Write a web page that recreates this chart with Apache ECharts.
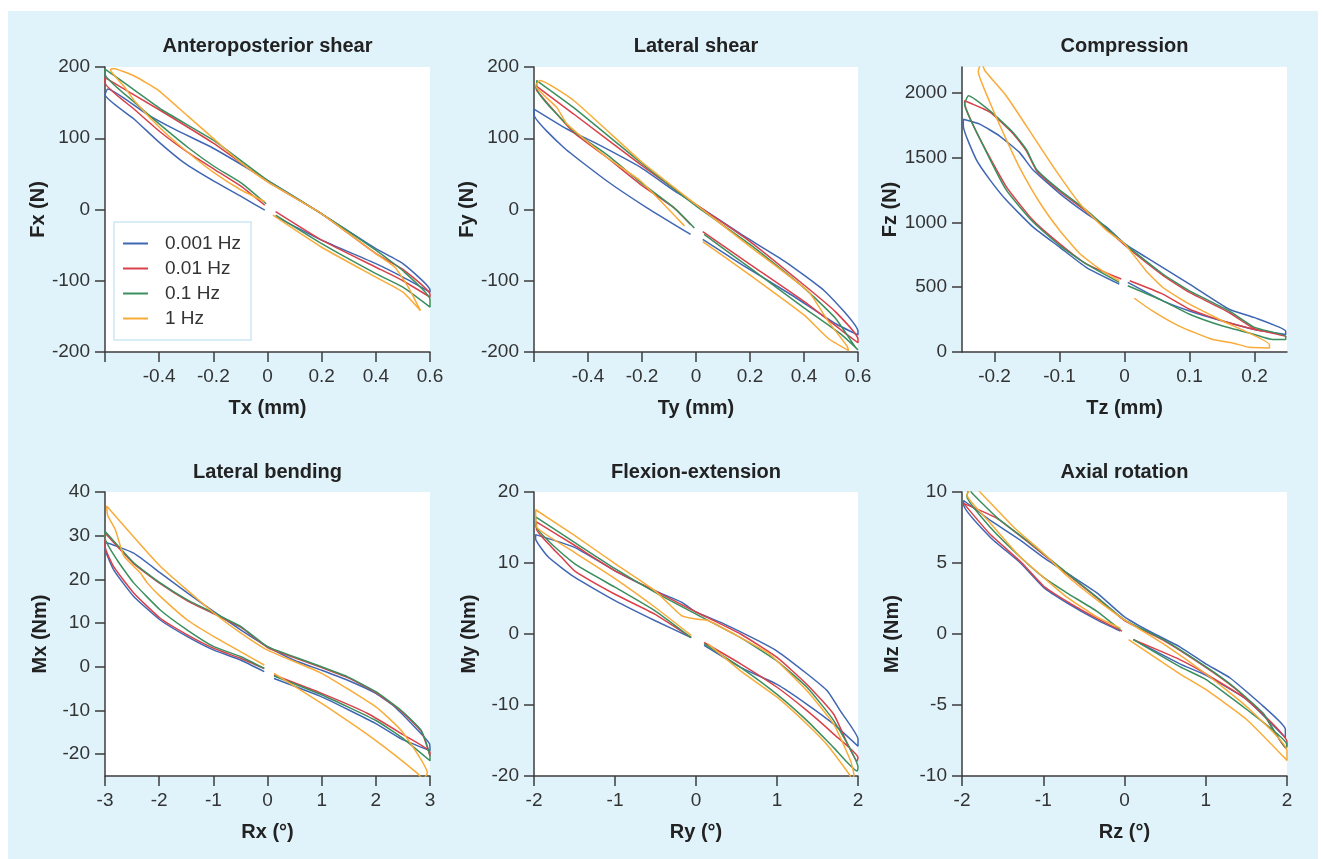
<!DOCTYPE html>
<html>
<head>
<meta charset="utf-8">
<script src="https://cdn.jsdelivr.net/npm/echarts@6/dist/echarts.min.js"></script>
<style>
  html, body { margin: 0; padding: 0; background: #ffffff; }
  #panel { position: absolute; left: 8px; top: 11px; width: 1310px; height: 848px; background: #e0f3fb; }
  #chart { position: absolute; left: 0; top: 0; width: 1322px; height: 859px; }
</style>
</head>
<body>
<div id="panel"></div>
<div id="chart"></div>
<script>
// Frequencies of the cyclic loading
const frequencies = ['0.001 Hz', '0.01 Hz', '0.1 Hz', '1 Hz'];
const colors = ['#3f67b3', '#d9404a', '#3b8f5f', '#f9ab38'];

// Each loop: [displacement, load] pairs, starting just past zero,
// out along the lower right branch, back along the upper branch, then in on the lower left.

// Anteroposterior shear: Tx (mm) vs Fx (N)
const apShear0001 = [[0.03,-10],[0.2,-43],[0.4,-76],[0.5,-95],[0.6,-116],[0.6,-113],[0.5,-76],[0.4,-55],[0.2,-6],[0,41],[-0.2,86],[-0.34,112],[-0.45,135],[-0.59,169],[-0.6,161],[-0.49,126],[-0.405,96],[-0.306,65],[-0.195,39],[-0.096,18],[-0.01,-1]];
const apShear001 = [[0.03,-3],[0.2,-43],[0.4,-81],[0.5,-100],[0.6,-123],[0.6,-119],[0.5,-84],[0.4,-62],[0.2,-6],[0,39],[-0.2,93],[-0.4,140],[-0.6,185],[-0.6,178],[-0.49,140],[-0.39,107],[-0.29,79],[-0.195,56],[-0.096,32],[-0.01,6]];
const apShear01 = [[0.03,-8],[0.2,-48],[0.4,-90],[0.5,-109],[0.6,-137],[0.6,-126],[0.5,-86],[0.4,-57],[0.2,-6],[0,41],[-0.195,96],[-0.39,140],[-0.5,170],[-0.6,197],[-0.6,190],[-0.49,150],[-0.39,117],[-0.29,86],[-0.195,60],[-0.096,37],[-0.005,8]];
const apShear1 = [[0.02,-8],[0.2,-53],[0.4,-95],[0.5,-116],[0.565,-142],[0.546,-128],[0.52,-109],[0.47,-81],[0.4,-62],[0.2,-6],[0,39],[-0.096,65],[-0.195,98],[-0.294,131],[-0.405,168],[-0.49,187],[-0.57,198],[-0.58,196],[-0.53,173],[-0.49,152],[-0.39,112],[-0.29,79],[-0.195,51],[-0.096,27],[-0.01,11]];

// Lateral shear: Ty (mm) vs Fy (N)
const latShear0001 = [[0.025,-42],[0.168,-77],[0.354,-120],[0.515,-160],[0.6,-176],[0.6,-171],[0.478,-115],[0.33,-73],[0.168,-35],[0,7],[-0.08,26],[-0.205,59],[-0.366,92],[-0.478,113],[-0.6,141],[-0.6,133],[-0.49,87],[-0.33,40],[-0.18,2],[-0.02,-35]];
const latShear001 = [[0.025,-31],[0.2,-77],[0.4,-129],[0.54,-170],[0.6,-187],[0.6,-182],[0.515,-143],[0.4,-106],[0.2,-45],[0,7],[-0.205,63],[-0.453,134],[-0.594,174],[-0.59,167],[-0.453,108],[-0.33,73],[-0.205,35],[-0.08,2],[-0.02,-21]];
const latShear01 = [[0.03,-35],[0.2,-82],[0.4,-138],[0.54,-176],[0.6,-197],[0.59,-193],[0.515,-152],[0.4,-110],[0.2,-49],[0,5],[-0.205,66],[-0.453,143],[-0.59,181],[-0.59,170],[-0.453,110],[-0.33,77],[-0.205,38],[-0.08,2],[-0.006,-26]];
const latShear1 = [[0.025,-45],[0.2,-92],[0.4,-148],[0.49,-181],[0.565,-198],[0.56,-192],[0.49,-157],[0.416,-115],[0.2,-52],[0,7],[-0.205,68],[-0.453,153],[-0.578,181],[-0.594,174],[-0.515,143],[-0.478,120],[-0.33,73],[-0.205,40],[-0.043,-23]];

// Compression: Tz (mm) vs Fz (N)
const compression0001 = [[0.005,537],[0.059,395],[0.1,317],[0.151,239],[0.2,174],[0.248,135],[0.248,161],[0.2,265],[0.161,330],[0.1,524],[0.033,732],[0,836],[-0.028,966],[-0.059,1070],[-0.1,1225],[-0.141,1407],[-0.161,1537],[-0.192,1667],[-0.222,1757],[-0.248,1796],[-0.248,1745],[-0.228,1485],[-0.207,1329],[-0.182,1173],[-0.141,966],[-0.1,810],[-0.059,654],[-0.008,524]];
const compression001 = [[0.008,550],[0.059,447],[0.1,330],[0.151,239],[0.2,174],[0.248,122],[0.248,118],[0.2,180],[0.161,305],[0.1,460],[0.059,592],[0,826],[-0.059,1085],[-0.1,1241],[-0.135,1397],[-0.151,1553],[-0.171,1683],[-0.207,1851],[-0.246,1939],[-0.246,1925],[-0.222,1641],[-0.182,1277],[-0.141,1018],[-0.1,836],[-0.059,680],[-0.005,563]];
const compression01 = [[0.005,511],[0.059,395],[0.1,291],[0.151,200],[0.2,135],[0.228,96],[0.248,96],[0.248,122],[0.2,190],[0.161,317],[0.1,472],[0.059,602],[0,836],[-0.059,1095],[-0.1,1251],[-0.135,1407],[-0.151,1563],[-0.171,1693],[-0.207,1861],[-0.24,1978],[-0.246,1913],[-0.222,1641],[-0.182,1251],[-0.141,1005],[-0.1,823],[-0.059,680],[-0.008,537]];
const compression1 = [[0.015,415],[0.043,317],[0.084,200],[0.136,96],[0.166,70],[0.192,36],[0.223,31],[0.223,57],[0.151,239],[0.1,369],[0.059,498],[0.033,628],[0,836],[-0.028,940],[-0.069,1147],[-0.11,1433],[-0.151,1745],[-0.182,1978],[-0.215,2173],[-0.22,2240],[-0.225,2165],[-0.207,1926],[-0.182,1641],[-0.161,1420],[-0.13,1150],[-0.1,940],[-0.069,760],[-0.038,640],[-0.008,550]];

// Lateral bending: Rx (°) vs Mx (Nm)
const latBending0001 = [[0.12,-2.7],[1,-6.9],[2,-13],[2.47,-16.5],[3,-19.2],[2.99,-17.6],[2.78,-14.6],[2.35,-9.2],[2,-6.1],[1.48,-3.1],[1,-0.8],[0.49,1.5],[0,4.6],[-0.49,8.4],[-0.99,12.6],[-1.48,16.9],[-1.98,21.5],[-2.47,26],[-2.99,28.4],[-3,27.2],[-2.84,22.2],[-2.47,16.1],[-1.98,10.7],[-1.48,6.9],[-0.99,3.8],[-0.49,1.5],[-0.06,-1.1]];
const latBending001 = [[0.12,-1.9],[1,-6.1],[1.85,-10.7],[2.47,-15.3],[3,-19.5],[3,-20.4],[2.84,-14.8],[2.47,-10.2],[2,-5.9],[1.48,-2.5],[1,-0.2],[0.49,2.1],[0,4.4],[-0.49,9],[-0.99,12.1],[-1.48,15.1],[-1.98,19],[-2.47,23.6],[-3,30.6],[-3,27.6],[-2.84,22.9],[-2.47,16.9],[-1.98,11.1],[-1.48,7.3],[-0.99,4.2],[-0.49,1.9],[-0.06,-0.4]];
const latBending01 = [[0.12,-2.1],[1,-6.4],[2,-12.3],[2.47,-16.1],[3,-21.5],[3,-20.7],[2.84,-14.6],[2.47,-10],[2,-5.7],[1.48,-2.3],[1,0],[0.49,2.3],[0,4.6],[-0.49,9.2],[-0.99,12.3],[-1.48,15.3],[-1.98,19.2],[-2.47,23.8],[-3,31],[-3,29.5],[-2.78,24.5],[-2.47,19.2],[-1.98,13],[-1.48,8.4],[-0.99,4.6],[-0.49,2.3],[-0.06,-0.4]];
const latBending1 = [[0.12,-1.5],[1,-8.4],[2,-16.9],[2.78,-24.5],[2.87,-25.8],[2.95,-24.3],[2.47,-14.6],[2,-9.2],[1,-1.5],[0,3.8],[-0.49,7.7],[-0.99,12.3],[-1.98,23],[-2.97,36.8],[-2.95,34.6],[-2.81,31.4],[-2.65,25.3],[-2.35,21.5],[-2.22,19.2],[-1.98,16.1],[-1.48,10.7],[-0.99,6.9],[-0.49,3.4],[-0.06,0.4]];

// Flexion-extension: Ry (°) vs My (Nm)
const flexExt0001 = [[0.1,-1.6],[0.55,-4.7],[1,-7.1],[1.37,-9.9],[1.7,-12.7],[2,-15.8],[2,-14.8],[1.78,-10.8],[1.62,-8],[1.37,-5.6],[1,-2.4],[0.76,-0.9],[0.35,1.4],[0,3.1],[-0.18,4.5],[-0.51,6.1],[-1,8.9],[-1.5,12.2],[-1.98,14],[-1.98,13.4],[-1.82,10.8],[-1.5,8],[-1,4.7],[-0.51,1.9],[-0.06,-0.5]];
const flexExt001 = [[0.1,-1.2],[0.55,-4.2],[1,-7.5],[1.37,-10.8],[1.7,-14.1],[2,-17.4],[1.99,-17.9],[1.7,-11.3],[1.37,-7.1],[1,-3.3],[0.55,0],[0,3.1],[-0.51,6.1],[-1,8.9],[-1.5,12.5],[-1.97,15.8],[-1.97,14.8],[-1.78,12.2],[-1.66,10.8],[-1.5,8.9],[-1,5.6],[-0.51,2.8],[-0.06,-0.5]];
const flexExt01 = [[0.1,-1.4],[0.55,-4.7],[1,-8.5],[1.37,-12.2],[1.7,-16],[1.99,-19.3],[2,-18.8],[1.7,-12.2],[1.37,-7.5],[1,-3.8],[0.55,-0.5],[0,2.8],[-0.51,5.9],[-1,9.2],[-1.5,12.9],[-1.98,16.5],[-1.98,15.3],[-1.5,9.9],[-1,6.6],[-0.51,3.3],[-0.06,-0.5]];
const flexExt1 = [[0.15,-1.4],[0.55,-5.2],[1,-8.9],[1.37,-12.7],[1.61,-15.5],[1.9,-19.9],[1.93,-20.6],[1.95,-19.9],[1.91,-17.9],[1.7,-12.7],[1.37,-8],[1,-3.8],[0.88,-2.6],[0.55,-0.5],[0.15,1.9],[0,2.1],[-0.18,2.6],[-0.51,6.1],[-1,9.9],[-1.5,13.9],[-1.98,17.5],[-1.97,15.1],[-1.5,11.5],[-1,7.8],[-0.51,3.8],[-0.06,-0.2]];

// Axial rotation: Rz (°) vs Mz (Nm)
const axialRot0001 = [[0.11,-0.4],[0.68,-2.1],[1,-2.9],[1.5,-4.6],[1.98,-7.3],[1.98,-6.7],[1.71,-5.1],[1.3,-3.1],[1,-2.1],[0.68,-0.9],[0.27,0.3],[0,1.2],[-0.34,2.9],[-0.71,4.3],[-1,5.4],[-1.28,6.6],[-1.65,8],[-1.98,9.4],[-1.98,9.1],[-1.65,6.8],[-1.28,5],[-1,3.3],[-0.71,2.2],[-0.34,1],[-0.05,0.2]];
const axialRot001 = [[0.11,-0.4],[0.68,-1.8],[1,-2.8],[1.5,-4.6],[2,-7.6],[1.99,-8.05],[1.71,-5.65],[1.34,-3.75],[1,-2.35],[0.48,-0.45],[0,0.95],[-0.34,2.55],[-0.71,4.25],[-1.16,6.35],[-1.57,8.15],[-1.98,9.2],[-1.65,7],[-1.28,5.1],[-1,3.4],[-0.71,2.3],[-0.34,1.1],[-0.03,0.2]];
const axialRot01 = [[0.11,-0.4],[0.68,-2.3],[1,-3.2],[1.5,-5.3],[2,-7.8],[1.99,-8],[1.71,-5.6],[1.34,-3.7],[1,-2.3],[0.48,-0.4],[0,1],[-0.34,2.6],[-0.71,4.3],[-1.16,6.4],[-1.57,8.2],[-1.88,9.95],[-1.91,10.3],[-1.94,9.7],[-1.65,7.5],[-1.28,5.4],[-1,4],[-0.71,2.9],[-0.34,1.6],[-0.05,0.3]];
const axialRot1 = [[0.05,-0.4],[0.68,-2.8],[1,-3.9],[1.5,-6],[2,-8.9],[2,-8.2],[1.5,-5.1],[1,-2.8],[0.48,-0.7],[0,1],[-0.34,2.4],[-0.71,4.1],[-1,5.7],[-1.36,7.5],[-1.77,9.95],[-1.85,10.4],[-1.94,9.8],[-1.65,7.8],[-1.28,5.4],[-1,4],[-0.71,2.6],[-0.34,1.2],[-0.05,0.4]];

// Panel titles and axis names
const titles = ['Anteroposterior shear', 'Lateral shear', 'Compression', 'Lateral bending', 'Flexion-extension', 'Axial rotation'];
const xNames = ['Tx (mm)', 'Ty (mm)', 'Tz (mm)', 'Rx (°)', 'Ry (°)', 'Rz (°)'];
const yNames = ['Fx (N)', 'Fy (N)', 'Fz (N)', 'Mx (Nm)', 'My (Nm)', 'Mz (Nm)'];

// Axis extents and tick values
const xRanges = [[-0.6, 0.6], [-0.6, 0.6], [-0.25, 0.25], [-3, 3], [-2, 2], [-2, 2]];
const yRanges = [[-200, 200], [-200, 200], [0, 2200], [-25, 40], [-20, 20], [-10, 10]];
const xTicks = [[-0.6,-0.4,-0.2,0,0.2,0.4,0.6], [-0.6,-0.4,-0.2,0,0.2,0.4,0.6], [-0.2,-0.1,0,0.1,0.2], [-3,-2,-1,0,1,2,3], [-2,-1,0,1,2], [-2,-1,0,1,2]];
const xTickLabels = [[-0.4,-0.2,0,0.2,0.4,0.6], [-0.4,-0.2,0,0.2,0.4,0.6], [-0.2,-0.1,0,0.1,0.2], [-3,-2,-1,0,1,2,3], [-2,-1,0,1,2], [-2,-1,0,1,2]];
const yTicks = [[-200,-100,0,100,200], [-200,-100,0,100,200], [0,500,1000,1500,2000], [-20,-10,0,10,20,30,40], [-20,-10,0,10,20], [-10,-5,0,5,10]];

const panelLoops = [
  [apShear0001, apShear001, apShear01, apShear1],
  [latShear0001, latShear001, latShear01, latShear1],
  [compression0001, compression001, compression01, compression1],
  [latBending0001, latBending001, latBending01, latBending1],
  [flexExt0001, flexExt001, flexExt01, flexExt1],
  [axialRot0001, axialRot001, axialRot01, axialRot1]
];

const FONT = '"Liberation Sans", Arial, Helvetica, sans-serif';
const AXIS_COLOR = '#3d3d3d';
const TEXT_COLOR = '#333333';

// Panel grid placement
const colLeft = [105, 534, 962];
const colWidth = [325, 324, 325];
const rowTop = [67, 492];
const rowHeight = [285, 284];
const yNameGap = [49, 55, 60, 55, 55, 60];

const grids = [], xAxes = [], yAxes = [], titleList = [], series = [];

for (let i = 0; i < 6; i++) {
  const c = i % 3, r = Math.floor(i / 3);
  grids.push({
    left: colLeft[c], top: rowTop[r], width: colWidth[c], height: rowHeight[r],
    show: true, backgroundColor: '#ffffff', borderWidth: 0, containLabel: false
  });
  titleList.push({
    text: titles[i],
    left: colLeft[c] + colWidth[c] / 2,
    top: r === 0 ? 36 : 462,
    textAlign: 'center',
    padding: 0,
    textStyle: { fontFamily: FONT, fontSize: 20, fontWeight: 'bold', color: '#222222' }
  });
  const fmt = v => String(parseFloat(Number(v).toFixed(3)));
  xAxes.push({
    type: 'value', gridIndex: i, min: xRanges[i][0], max: xRanges[i][1],
    position: 'bottom',
    axisLine: { show: true, onZero: false, lineStyle: { color: AXIS_COLOR, width: 1.5 } },
    axisTick: { show: true, inside: false, length: 10, customValues: xTicks[i], lineStyle: { color: AXIS_COLOR, width: 1.5 } },
    axisLabel: { show: true, margin: 15, customValues: xTickLabels[i], formatter: fmt, fontFamily: FONT, fontSize: 19, color: TEXT_COLOR },
    splitLine: { show: false },
    name: xNames[i], nameLocation: 'middle', nameGap: 46,
    nameTextStyle: { fontFamily: FONT, fontSize: 20, fontWeight: 'bold', color: '#222222' }
  });
  yAxes.push({
    type: 'value', gridIndex: i, min: yRanges[i][0], max: yRanges[i][1],
    position: 'left',
    axisLine: { show: true, onZero: false, lineStyle: { color: AXIS_COLOR, width: 1.5 } },
    axisTick: { show: true, inside: false, length: 10, customValues: yTicks[i], lineStyle: { color: AXIS_COLOR, width: 1.5 } },
    axisLabel: { show: true, margin: 15, customValues: yTicks[i], formatter: fmt, fontFamily: FONT, fontSize: 19, color: TEXT_COLOR },
    splitLine: { show: false },
    name: yNames[i], nameLocation: 'middle', nameGap: yNameGap[i],
    nameTextStyle: { fontFamily: FONT, fontSize: 20, fontWeight: 'bold', color: '#222222' }
  });
  panelLoops[i].forEach((loop, k) => {
    series.push({
      name: frequencies[k], type: 'line', xAxisIndex: i, yAxisIndex: i,
      data: loop, symbol: 'none', smooth: 0.15, smoothMonotone: 'none',
      lineStyle: { color: colors[k], width: 1.5 },
      itemStyle: { color: colors[k] },
      emphasis: { disabled: true }, animation: false
    });
  });
}

const chart = echarts.init(document.getElementById('chart'), null, { renderer: 'canvas' });
chart.setOption({
  backgroundColor: 'transparent',
  animation: false,
  title: titleList,
  grid: grids,
  xAxis: xAxes,
  yAxis: yAxes,
  legend: {
    left: 114, top: 222, orient: 'vertical',
    backgroundColor: '#ffffff', borderColor: '#cde7f4', borderWidth: 1.5, borderRadius: 0,
    padding: [12, 10, 12, 9],
    itemWidth: 25, itemHeight: 2, itemGap: 6, icon: 'rect',
    textStyle: { fontFamily: FONT, fontSize: 19, color: TEXT_COLOR, padding: [0, 0, 0, 12] },
    data: frequencies, selectedMode: false
  },
  series: series
});
</script>
</body>
</html>
